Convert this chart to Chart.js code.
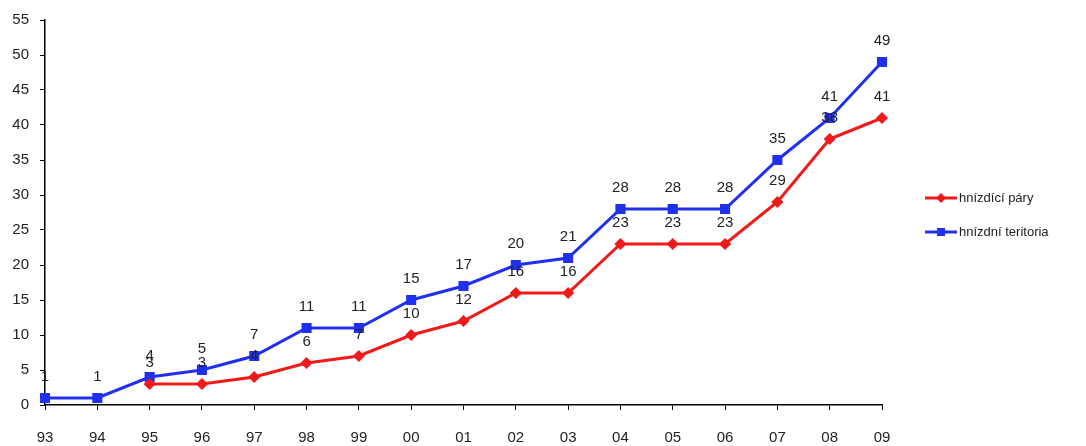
<!DOCTYPE html>
<html lang="cs">
<head>
<meta charset="UTF-8">
<title>Hnízdní páry a teritoria</title>
<script src="https://cdn.jsdelivr.net/npm/chart.js"></script>
<style>
    html, body { margin: 0; padding: 0; background: #fff; }
    #wrap { width: 1086px; height: 446px; position: relative; }
</style>
</head>
<body>
<div id="wrap"><canvas id="graf"></canvas></div>
<script>
const roky = ['93','94','95','96','97','98','99','00','01','02','03','04','05','06','07','08','09'];
const paryHodnoty = [null, null, 3, 3, 4, 6, 7, 10, 12, 16, 16, 23, 23, 23, 29, 38, 41];
const teritoriaHodnoty = [1, 1, 4, 5, 7, 11, 11, 15, 17, 20, 21, 28, 28, 28, 35, 41, 49];
const osaY = [0, 5, 10, 15, 20, 25, 30, 35, 40, 45, 50, 55];

const cervena = '#f01a1a';
const modra = '#2030f0';
const pismo = '"Liberation Sans", Arial, sans-serif';

// popisky hodnot nad body
const popisky = {
    id: 'popisky',
    afterDatasetsDraw(chart) {
        const ctx = chart.ctx;
        ctx.save();
        ctx.font = '15px ' + pismo;
        ctx.fillStyle = '#222';
        ctx.textAlign = 'center';
        ctx.textBaseline = 'middle';
        chart.data.datasets.forEach((ds, i) => {
            chart.getDatasetMeta(i).data.forEach((pt, j) => {
                if (ds.data[j] == null) return;
                ctx.fillText(ds.data[j], pt.x, pt.y - 21);
            });
        });
        ctx.restore();
    }
};

// legenda vpravo jako v excelu (cara + znacka)
const legenda = {
    id: 'legenda',
    afterDraw(chart) {
        const ctx = chart.ctx;
        ctx.save();
        ctx.font = '13px ' + pismo;
        ctx.textBaseline = 'middle';
        chart.data.datasets.forEach((ds, i) => {
            const y = 198 + i * 34;
            ctx.strokeStyle = ds.borderColor;
            ctx.lineWidth = 3;
            ctx.beginPath();
            ctx.moveTo(925, y);
            ctx.lineTo(957, y);
            ctx.stroke();
            ctx.fillStyle = ds.borderColor;
            ctx.beginPath();
            if (ds.pointStyle === 'rect') {
                ctx.rect(937, y - 4, 8, 8);
            } else {
                ctx.moveTo(941, y - 5); ctx.lineTo(946, y); ctx.lineTo(941, y + 5); ctx.lineTo(936, y);
                ctx.closePath();
            }
            ctx.fill();
            ctx.fillStyle = '#222';
            ctx.fillText(ds.label, 959, y);
        });
        ctx.restore();
    }
};

new Chart(document.getElementById('graf'), {
    type: 'line',
    data: {
        labels: roky,
        datasets: [
            {
                label: 'hnízdící páry',
                data: paryHodnoty,
                borderColor: cervena,
                backgroundColor: cervena,
                borderWidth: 3,
                pointStyle: 'rectRot',
                pointRadius: 4,
                pointHoverRadius: 4,
                tension: 0,
                spanGaps: false
            },
            {
                label: 'hnízdní teritoria',
                data: teritoriaHodnoty,
                borderColor: modra,
                backgroundColor: modra,
                borderWidth: 3,
                pointStyle: 'rect',
                pointRadius: 5,
                pointHoverRadius: 5,
                tension: 0
            }
        ]
    },
    options: {
        responsive: true,
        maintainAspectRatio: false,
        animation: false,
        layout: { padding: { top: 17, right: 204, left: 0, bottom: 0 } },
        plugins: {
            legend: { display: false },
            tooltip: { enabled: false }
        },
        scales: {
            x: {
                offset: false,
                afterFit: s => { s.height = 41; },
                grid: { drawOnChartArea: false, drawTicks: true, tickLength: 5, color: '#000' },
                border: { color: '#000', width: 1.5 },
                ticks: { color: '#222', font: { family: pismo, size: 15 }, padding: 19, maxRotation: 0, autoSkip: false }
            },
            y: {
                min: 0,
                max: 55,
                afterFit: s => { s.width = 45; },
                afterBuildTicks: s => { s.ticks = osaY.map(v => ({ value: v })); },
                grid: { drawOnChartArea: false, drawTicks: true, tickLength: 5, color: '#000' },
                border: { color: '#000', width: 1.5 },
                ticks: { color: '#222', font: { family: pismo, size: 15 }, padding: 11 }
            }
        }
    },
    plugins: [popisky, legenda]
});
</script>
</body>
</html>
